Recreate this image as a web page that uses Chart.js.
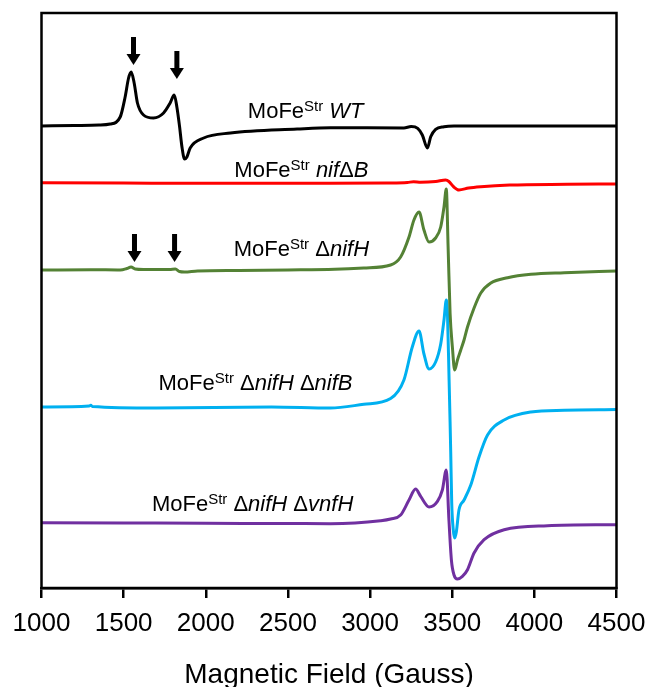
<!DOCTYPE html>
<html>
<head>
<meta charset="utf-8">
<script src="https://cdn.jsdelivr.net/npm/chart.js@4.4.1/dist/chart.umd.min.js"></script>
<style>
  html, body { margin: 0; padding: 0; background: #fff; }
  #wrap { width: 651px; height: 687px; }
</style>
</head>
<body>
<div id="wrap"><canvas id="epr"></canvas></div>
<script>
// magnetic field (G) and signal (arbitrary, relative to each trace's baseline)
var wtField = [1000, 1200, 1350, 1418, 1479, 1509, 1530, 1546, 1564, 1584, 1621, 1682, 1743, 1783, 1808, 1824, 1840, 1855, 1871, 1885, 1905, 1987, 2150, 2556, 2759, 3206, 3250, 3290, 3318, 3349, 3369, 3399, 3450, 3511, 3900, 4500];
var wtSignal = [0, 0.5, 1, 2, 9, 29, 48, 54, 43, 23, 11, 8, 13, 23, 31, 19, 0, -21, -33, -31, -22, -12, -7, -3, -1.7, -2, -0.5, -2.3, -9, -22, -10.7, -3.3, -0.7, 0, 0, 0];

var nifBField = [1000, 1500, 2000, 2500, 2759, 3100, 3227, 3265, 3308, 3400, 3460, 3480, 3510, 3541, 3600, 3674, 3850, 4200, 4500];
var nifBSignal = [0.3, 0, -0.3, -0.3, -0.3, 0, 0.5, 1.3, 0.7, 1.5, 3, 1.5, -4, -7, -5, -3.7, -2, -1.3, -1];

var nifHField = [1000, 1300, 1480, 1520, 1545, 1570, 1620, 1780, 1815, 1840, 1870, 1950, 2200, 2500, 2785, 2962, 3125, 3186, 3237, 3267, 3298, 3328, 3359, 3399, 3430, 3450, 3464, 3475, 3487, 3501, 3515, 3532, 3552, 3572, 3593, 3633, 3674, 3735, 3837, 3979, 4182, 4500];
var nifHSignal = [0, 0.3, 0, 1.5, 3, 1, 0.5, 0.5, 1, -1.5, -2, -1, -0.5, 0, 0.7, 2, 5, 13, 33, 50, 58, 40, 28, 32, 43, 63, 81, 23, -43, -77, -100, -90, -80, -70, -57, -38, -23, -13, -7.7, -4.3, -2.7, -1];

var nifBdField = [1000, 1290, 1300, 1310, 1700, 2400, 2759, 2962, 3125, 3206, 3257, 3298, 3328, 3359, 3399, 3430, 3450, 3464, 3471, 3481, 3487, 3491, 3497, 3506, 3515, 3525, 3541, 3572, 3613, 3663, 3715, 3816, 3979, 4182, 4500];
var nifBdSignal = [0, 1, 1.8, 0.5, -1, 0, -1, 2.7, 8.4, 27, 60, 76, 53, 38, 45, 63, 87, 107, 94, 27, -15, -46, -96, -122, -131, -125, -103, -93, -78, -50, -28, -13, -5, -3.3, -2.6];

var vnfHField = [1000, 1500, 2000, 2500, 2759, 3064, 3125, 3186, 3237, 3277, 3308, 3359, 3410, 3440, 3464, 3480, 3495, 3511, 3532, 3562, 3593, 3633, 3694, 3816, 4080, 4500];
var vnfHSignal = [0.3, 0, -0.3, -0.5, -0.7, 2.3, 4, 8, 23, 34, 26.6, 16, 21.6, 33, 53, 3, -37, -52, -56, -53.4, -46.7, -30, -16.7, -6.7, -2.7, -1.7];

var baselines = [462, 405, 318, 181, 65];
var traceColors = ['#000000', '#ff0000', '#548235', '#00b0f0', '#7030a0'];
var xTicks = [1000, 1500, 2000, 2500, 3000, 3500, 4000, 4500];

// labels: [text, n = normal, i = italic, s = superscript]
var labelParts = [
    [['MoFe', 'n'], ['Str', 's'], [' ', 'n'], ['WT', 'i']],
    [['MoFe', 'n'], ['Str', 's'], [' ', 'n'], ['nif', 'i'], ['\u0394', 'n'], ['B', 'i']],
    [['MoFe', 'n'], ['Str', 's'], [' \u0394', 'n'], ['nifH', 'i']],
    [['MoFe', 'n'], ['Str', 's'], [' \u0394', 'n'], ['nifH', 'i'], [' \u0394', 'n'], ['nifB', 'i']],
    [['MoFe', 'n'], ['Str', 's'], [' \u0394', 'n'], ['nifH', 'i'], [' \u0394', 'n'], ['vnfH', 'i']]
];
var labelField = [2256, 2174, 2170, 1712, 1672];
var labelLevel = [470, 411, 332, 198, 77];

var arrowField = [1560, 1824, 1566, 1810];
var arrowTip = [523, 509, 326, 326];

function toPoints(field, signal, base) {
    return field.map(function (g, i) { return { x: g, y: signal[i] + base }; });
}

var traces = [
    toPoints(wtField, wtSignal, baselines[0]),
    toPoints(nifBField, nifBSignal, baselines[1]),
    toPoints(nifHField, nifHSignal, baselines[2]),
    toPoints(nifBdField, nifBdSignal, baselines[3]),
    toPoints(vnfHField, vnfHSignal, baselines[4])
];

var FONT = "'Liberation Sans', Arial, sans-serif";

var decor = {
    id: 'decor',
    afterDraw: function (chart) {
        var ctx = chart.ctx, a = chart.chartArea;
        var xs = chart.scales.x, ys = chart.scales.y;
        ctx.save();
        // frame
        ctx.strokeStyle = '#000';
        ctx.lineWidth = 2.5;
        ctx.strokeRect(a.left, a.top, a.right - a.left, a.bottom - a.top);

        // trace labels
        ctx.fillStyle = '#000';
        ctx.textBaseline = 'alphabetic';
        ctx.textAlign = 'left';
        labelParts.forEach(function (parts, k) {
            var x = xs.getPixelForValue(labelField[k]);
            var y = ys.getPixelForValue(labelLevel[k]);
            parts.forEach(function (p) {
                var dy = 0;
                if (p[1] === 's') { ctx.font = '15px ' + FONT; dy = -7; }
                else if (p[1] === 'i') { ctx.font = 'italic 22px ' + FONT; }
                else { ctx.font = '22px ' + FONT; }
                ctx.fillText(p[0], x, y + dy);
                x += ctx.measureText(p[0]).width;
            });
        });

        // arrows
        arrowField.forEach(function (g, k) {
            var x = xs.getPixelForValue(g);
            var tip = ys.getPixelForValue(arrowTip[k]);
            ctx.fillRect(x - 2.5, tip - 28, 5, 18);
            ctx.beginPath();
            ctx.moveTo(x - 7, tip - 11);
            ctx.lineTo(x + 7, tip - 11);
            ctx.lineTo(x, tip);
            ctx.closePath();
            ctx.fill();
        });
        ctx.restore();
    }
};

var datasets = traces.map(function (pts, i) {
    return {
        data: pts,
        borderColor: traceColors[i],
        borderWidth: 3,
        pointRadius: 0,
        cubicInterpolationMode: 'monotone',
        fill: false
    };
});

new Chart(document.getElementById('epr').getContext('2d'), {
    type: 'line',
    data: { datasets: datasets },
    options: {
        responsive: true,
        maintainAspectRatio: false,
        animation: false,
        layout: { padding: { left: 41.5, right: 34.5, top: 13, bottom: 0 } },
        plugins: {
            legend: { display: false },
            tooltip: { enabled: false }
        },
        scales: {
            x: {
                type: 'linear',
                min: 1000,
                max: 4500,
                afterBuildTicks: function (s) { s.ticks = xTicks.map(function (v) { return { value: v }; }); },
                afterFit: function (s) {
                    s.height = 99;
                    s.paddingLeft = 0;
                    s.paddingRight = 0;
                },
                grid: { drawOnChartArea: false, drawTicks: true, tickLength: 10, color: '#000', lineWidth: 2.5 },
                border: { display: true, color: '#000', width: 2.5 },
                ticks: {
                    color: '#000',
                    font: { family: FONT, size: 26 },
                    padding: 10,
                    maxRotation: 0,
                    callback: function (v) { return String(v); }
                },
                title: {
                    display: true,
                    text: 'Magnetic Field (Gauss)',
                    color: '#000',
                    font: { family: FONT, size: 28, lineHeight: 0.8 },
                    padding: { top: 0, bottom: 1 }
                }
            },
            y: {
                display: false,
                min: 0,
                max: 575
            }
        }
    },
    plugins: [decor]
});
</script>
</body>
</html>
